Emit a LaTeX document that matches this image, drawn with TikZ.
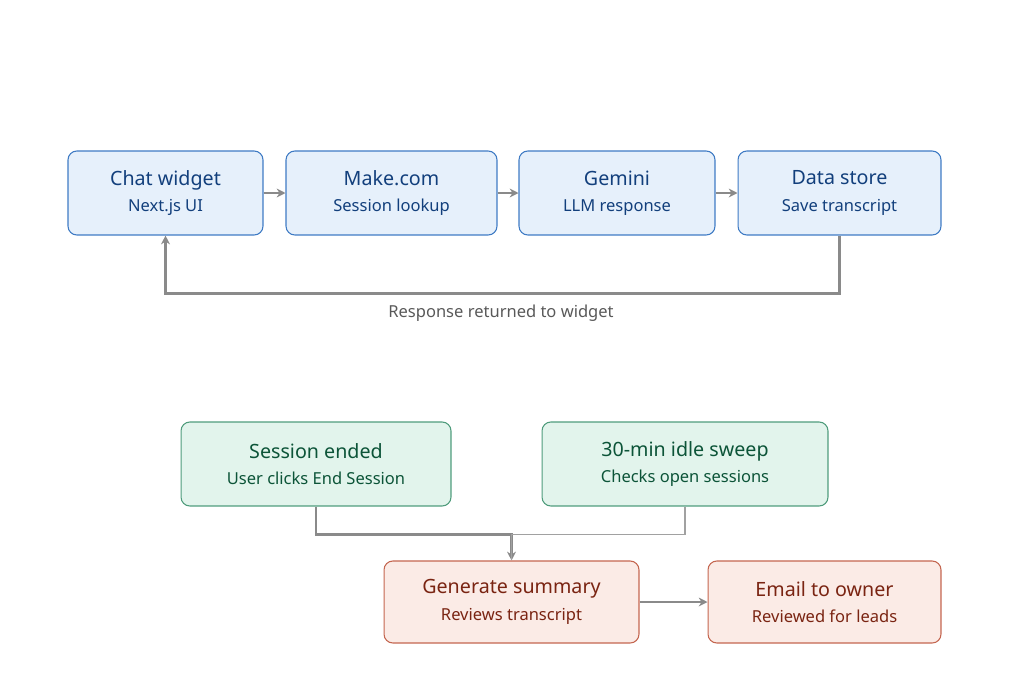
\documentclass[tikz,border=0pt]{standalone}
\usepackage{fontspec}
\setmainfont{Noto Sans}
\usetikzlibrary{positioning, arrows.meta}
\definecolor{bluefill}{HTML}{E6F0FB}
\definecolor{blueline}{HTML}{3F7BC4}
\definecolor{bluetext}{HTML}{123F7C}
\definecolor{greenfill}{HTML}{E2F4EC}
\definecolor{greenline}{HTML}{4F9C7C}
\definecolor{greentext}{HTML}{0C5438}
\definecolor{redfill}{HTML}{FBEBE6}
\definecolor{redline}{HTML}{C46650}
\definecolor{redtext}{HTML}{7A2412}
\definecolor{wire}{HTML}{8A8A8A}
\newcommand{\twoline}[2]{{\fontsize{11.2}{13}\selectfont\bfseries #1}\\[3pt]{\fontsize{9.4}{11}\selectfont #2}}

\begin{document}
\begin{tikzpicture}[
		x=0.02cm, y=-0.02cm,
		>={Stealth[length=5pt, width=5pt]},
		box/.style={draw, rectangle, rounded corners=5pt, line width=0.6pt, minimum height=1.68cm, align=center, inner sep=0pt},
		web/.style={box, fill=bluefill, draw=blueline, text=bluetext},
		trigger/.style={box, fill=greenfill, draw=greenline, text=greentext},
		result/.style={box, fill=redfill, draw=redline, text=redtext},
		link/.style={->, draw=wire, line width=1.2pt},
	]
	\useasboundingbox (0, 0) rectangle (1024, 693);
	\node[web, minimum width=3.9cm] (widget) at (165.5, 193) {\twoline{Chat widget}{Next.js UI}};
	\node[web, minimum width=4.22cm] (make) at (391.5, 193) {\twoline{Make.com}{Session lookup}};
	\node[web, minimum width=3.92cm] (gemini) at (617, 193) {\twoline{Gemini}{LLM response}};
	\node[web, minimum width=4.06cm] (store) at (839.5, 193) {\twoline{Data store}{Save transcript}};
	\node[trigger, minimum width=5.4cm] (ended) at (316, 464) {\twoline{Session ended}{User clicks End Session}};
	\node[trigger, minimum width=5.72cm] (sweep) at (685, 464) {\twoline{30-min idle sweep}{Checks open sessions}};
	\node[result, minimum width=5.1cm, minimum height=1.64cm] (summary) at (511.5, 602) {\twoline{Generate summary}{Reviews transcript}};
	\node[result, minimum width=4.66cm, minimum height=1.64cm] (email) at (824.5, 602) {\twoline{Email to owner}{Reviewed for leads}};
	\node[text=black!65, font=\fontsize{9.4}{11}\selectfont] (back) at (501, 313) {Response returned to widget};

	\draw[link] (widget) -- (make);
	\draw[link] (make) -- (gemini);
	\draw[link] (gemini) -- (store);
	\draw[link] (store.south) -- ++(0, 58) -| (widget.south);
	\draw[link] (ended.south) -- ++(0, 28) -| (summary.north);
	\draw[draw=wire!80, line width=0.6pt] (sweep.south) -- ++(0, 28) -| (summary.north);
	\draw[link] (summary) -- (email);
\end{tikzpicture}
\end{document}
